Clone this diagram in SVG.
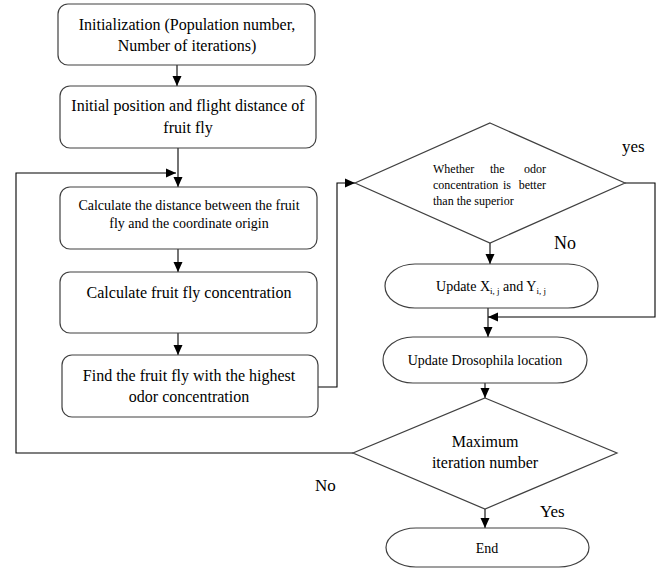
<svg xmlns="http://www.w3.org/2000/svg" width="663" height="568" viewBox="0 0 663 568">
<defs>
<marker id="ah" markerWidth="10" markerHeight="10" viewBox="0 0 10 10" refX="10" refY="5" orient="auto" markerUnits="userSpaceOnUse">
<path d="M0,0.5 L10,5 L0,9.5 z" fill="#000"/>
</marker>
</defs>
<style>
.box{fill:#fff;stroke:#404040;stroke-width:1.2}
.ln{fill:none;stroke:#000;stroke-width:1.1}
.t{font-family:"Liberation Serif","Times New Roman","DejaVu Serif",serif;fill:#000;text-anchor:middle}
.s16{font-size:16px}
.s14{font-size:14px}
.s12{font-size:12px}
.lab{font-family:"Liberation Serif","Times New Roman","DejaVu Serif",serif;fill:#000}
</style>
<rect width="663" height="568" fill="#fff"/>
<g id="connectors">
<line class="ln" x1="177" y1="65" x2="177" y2="86" marker-end="url(#ah)"/>
<line class="ln" x1="178" y1="148" x2="178" y2="187" marker-end="url(#ah)"/>
<polyline class="ln" points="353,453 16,453 16,173 176,173" marker-end="url(#ah)"/>
<line class="ln" x1="178" y1="249" x2="178" y2="272" marker-end="url(#ah)"/>
<line class="ln" x1="178" y1="333" x2="178" y2="355" marker-end="url(#ah)"/>
<polyline class="ln" points="318,387 337,387 337,183 355,183" marker-end="url(#ah)"/>
<line class="ln" x1="490" y1="243" x2="490" y2="264" marker-end="url(#ah)"/>
<polyline class="ln" points="625,183 655,183 655,317 488,317" marker-end="url(#ah)"/>
<line class="ln" x1="488" y1="308" x2="488" y2="337" marker-end="url(#ah)"/>
<line class="ln" x1="485" y1="383" x2="485" y2="398" marker-end="url(#ah)"/>
<line class="ln" x1="485" y1="509" x2="485" y2="528" marker-end="url(#ah)"/>
</g>
<g id="init">
<rect class="box" x="58" y="4" width="257" height="61" rx="10"/>
<text class="t s16" x="187" y="30">Initialization (Population number,</text>
<text class="t s16" x="187" y="51">Number of iterations)</text>
</g>
<g id="initpos">
<rect class="box" x="60" y="86" width="256" height="62" rx="10"/>
<text class="t s16" x="188" y="111">Initial position and flight distance of</text>
<text class="t s16" x="188" y="133">fruit fly</text>
</g>
<g id="calcdist">
<rect class="box" x="60" y="187" width="257" height="62" rx="10"/>
<text class="t s14" x="189" y="210">Calculate the distance between the fruit</text>
<text class="t s14" x="189" y="228">fly and the coordinate origin</text>
</g>
<g id="calcconc">
<rect class="box" x="60" y="272" width="257" height="61" rx="10"/>
<text class="t s16" x="189" y="298">Calculate fruit fly concentration</text>
</g>
<g id="findbest">
<rect class="box" x="62" y="355" width="256" height="62" rx="10"/>
<text class="t s16" x="189" y="381">Find the fruit fly with the highest</text>
<text class="t s16" x="189" y="402">odor concentration</text>
</g>
<g id="decision1">
<polygon class="box" points="490,123 625,183 490,243 355,183"/>
<text class="lab s12" x="433" y="173">Whether</text>
<text class="lab s12" x="490" y="173">the</text>
<text class="lab s12" x="546" y="173" text-anchor="end">odor</text>
<text class="lab s12" x="433" y="189">concentration</text>
<text class="lab s12" x="503" y="189">is</text>
<text class="lab s12" x="546" y="189" text-anchor="end">better</text>
<text class="lab s12" x="433" y="205">than the superior</text>
</g>
<g id="updatexy">
<rect class="box" x="385" y="264" width="213" height="44" rx="30" ry="22"/>
<text class="t s14" x="491" y="291">Update X<tspan font-size="9" dy="3">i, j</tspan><tspan dy="-3"> and Y</tspan><tspan font-size="9" dy="3">i, j</tspan></text>
</g>
<g id="updateloc">
<rect class="box" x="383" y="337" width="204" height="46" rx="30" ry="23"/>
<text class="t s14" x="485" y="365">Update Drosophila location</text>
</g>
<g id="decision2">
<polygon class="box" points="485,398 617,453 485,509 353,453"/>
<text class="t s16" x="485" y="447">Maximum</text>
<text class="t s16" x="485" y="468">iteration number</text>
</g>
<g id="end">
<rect class="box" x="386" y="528" width="203" height="39" rx="30" ry="19.5"/>
<text class="t s14" x="487" y="553">End</text>
</g>
<g id="labels">
<text class="lab" font-size="17" x="622" y="152">yes</text>
<text class="lab" font-size="18" x="554" y="249">No</text>
<text class="lab" font-size="17" x="315" y="491">No</text>
<text class="lab" font-size="17" x="540" y="517">Yes</text>
</g>
</svg>
